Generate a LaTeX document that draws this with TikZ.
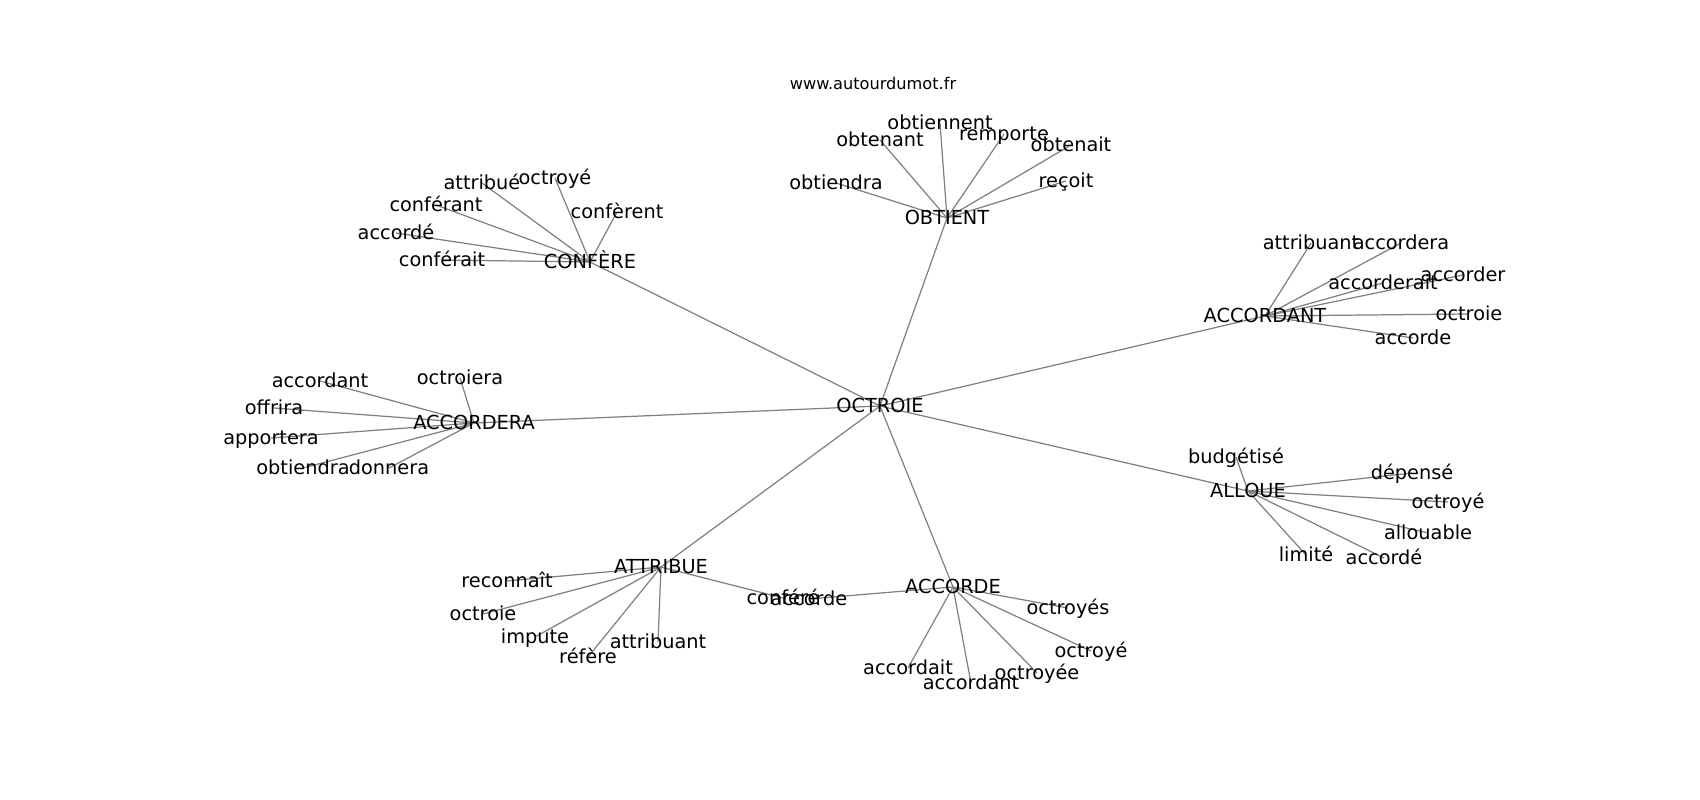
\documentclass[tikz,border=0pt]{standalone}
\usepackage{fontspec}
\setmainfont{DejaVu Sans}
\usetikzlibrary{backgrounds}
\begin{document}
\begin{tikzpicture}[x=0.02cm,y=-0.02cm,
  lab/.style={inner sep=0pt,font=\fontsize{11}{13}\selectfont,text height=0.75em,text depth=0.05em,anchor=center},
  ttl/.style={inner sep=0pt,font=\fontsize{9.2}{11}\selectfont,text height=0.75em,text depth=0.05em,anchor=center},
  edge/.style={draw=gray,line width=0.7pt}]
\useasboundingbox (0,0) rectangle (1700,800);
\node[ttl] (title) at (873,83) {www.autourdumot.fr};
% hubs
\node[lab] (oct) at (880,406) {OCTROIE};
\node[lab] (conf) at (590,262) {CONFÈRE};
\node[lab] (obt) at (947,218) {OBTIENT};
\node[lab] (acdt) at (1265,316) {ACCORDANT};
\node[lab] (acda) at (474,423) {ACCORDERA};
\node[lab] (allo) at (1248,491) {ALLOUE};
\node[lab] (att) at (661,567) {ATTRIBUE};
\node[lab] (acc) at (953,587) {ACCORDE};
% CONFERE leaves
\node[lab] (c1) at (482,183) {attribué};
\node[lab] (c2) at (555,178) {octroyé};
\node[lab] (c3) at (617,212) {confèrent};
\node[lab] (c4) at (436,205) {conférant};
\node[lab] (c5) at (396,233) {accordé};
\node[lab] (c6) at (442,260) {conférait};
% OBTIENT leaves
\node[lab] (o1) at (940,123) {obtiennent};
\node[lab] (o2) at (880,140) {obtenant};
\node[lab] (o3) at (1004,134) {remporte};
\node[lab] (o4) at (1071,145) {obtenait};
\node[lab] (o5) at (836,183) {obtiendra};
\node[lab] (o6) at (1066,181) {reçoit};
% ACCORDANT leaves
\node[lab] (d1) at (1311,243) {attribuant};
\node[lab] (d2) at (1401,243) {accordera};
\node[lab] (d3) at (1383,283) {accorderait};
\node[lab] (d4) at (1463,275) {accorder};
\node[lab] (d5) at (1469,314) {octroie};
\node[lab] (d6) at (1413,338) {accorde};
% ACCORDERA leaves
\node[lab] (e1) at (320,381) {accordant};
\node[lab] (e2) at (460,378) {octroiera};
\node[lab] (e3) at (274,408) {offrira};
\node[lab] (e4) at (271,438) {apportera};
\node[lab] (e5) at (303,468) {obtiendra};
\node[lab] (e6) at (389,468) {donnera};
% ALLOUE leaves
\node[lab] (l1) at (1236,457) {budgétisé};
\node[lab] (l2) at (1412,473) {dépensé};
\node[lab] (l3) at (1448,502) {octroyé};
\node[lab] (l4) at (1428,533) {allouable};
\node[lab] (l5) at (1306,555) {limité};
\node[lab] (l6) at (1384,558) {accordé};
% ATTRIBUE leaves
\node[lab] (a1) at (507,581) {reconnaît};
\node[lab] (a2) at (483,614) {octroie};
\node[lab] (a3) at (535,637) {impute};
\node[lab] (a4) at (588,657) {réfère};
\node[lab] (a5) at (658,642) {attribuant};
\node[lab] (a6) at (783,598) {conféré};
% ACCORDE leaves
\node[lab] (k1) at (809,599) {accorde};
\node[lab] (k2) at (1068,608) {octroyés};
\node[lab] (k3) at (1091,651) {octroyé};
\node[lab] (k4) at (908,668) {accordait};
\node[lab] (k5) at (971,683) {accordant};
\node[lab] (k6) at (1037,673) {octroyée};
\begin{pgfonlayer}{background}
\foreach \h in {conf,obt,acdt,acda,allo,att,acc}
  \draw[edge] (oct.center) -- (\h.center);
\foreach \l in {c1,c2,c3,c4,c5,c6}
  \draw[edge] (conf.center) -- (\l.center);
\foreach \l in {o1,o2,o3,o4,o5,o6}
  \draw[edge] (obt.center) -- (\l.center);
\foreach \l in {d1,d2,d3,d4,d5,d6}
  \draw[edge] (acdt.center) -- (\l.center);
\foreach \l in {e1,e2,e3,e4,e5,e6}
  \draw[edge] (acda.center) -- (\l.center);
\foreach \l in {l1,l2,l3,l4,l5,l6}
  \draw[edge] (allo.center) -- (\l.center);
\foreach \l in {a1,a2,a3,a4,a5,a6}
  \draw[edge] (att.center) -- (\l.center);
\foreach \l in {k1,k2,k3,k4,k5,k6}
  \draw[edge] (acc.center) -- (\l.center);
\end{pgfonlayer}
\end{tikzpicture}
\end{document}
